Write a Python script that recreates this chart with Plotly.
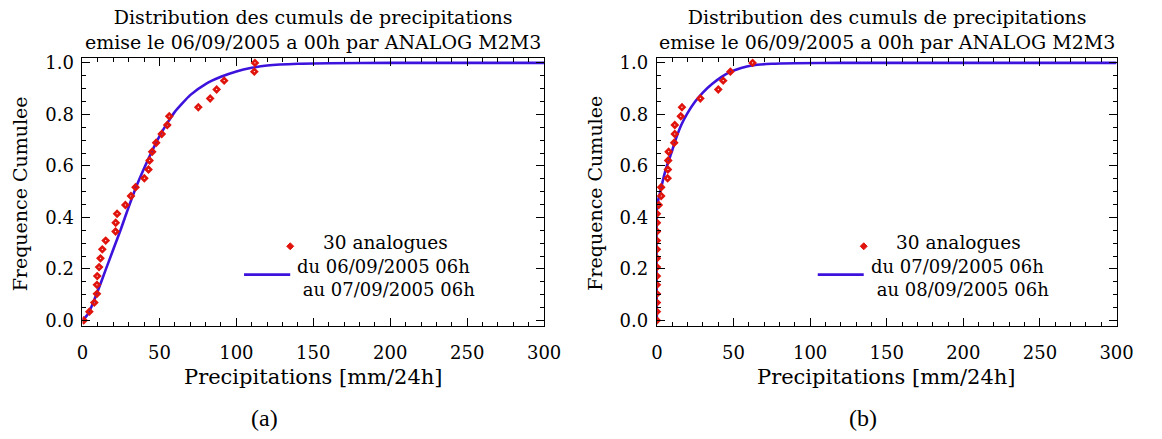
import plotly.graph_objects as go

# ---------------- data ----------------
cdf_levels = [0.0, 0.034, 0.069, 0.103, 0.138, 0.172, 0.207, 0.241, 0.276, 0.310,
              0.345, 0.379, 0.414, 0.448, 0.483, 0.517, 0.552, 0.586, 0.621, 0.655,
              0.690, 0.724, 0.759, 0.793, 0.828, 0.862, 0.897, 0.931, 0.966, 1.0]

analog_a = [0.8, 4.5, 7.7, 9.4, 9.4, 9.6, 10.8, 11.7, 12.9, 15.1,
            21.5, 21.6, 22.5, 27.9, 31.5, 34.5, 40.2, 42.9, 43.6, 45.3,
            47.9, 51.5, 55.1, 56.4, 75.3, 83.0, 87.2, 92.1, 111.7, 112.1]

analog_b = [0, 0, 0, 0, 0, 0, 0, 0, 0, 0,
            0, 0, 0, 1.2, 2.8, 2.8, 7.0, 7.2, 7.4, 7.7,
            11.3, 11.7, 11.7, 15.6, 16.4, 28.4, 40.1, 43.3, 48.0, 62.5]

fit_a_x = [0, 3, 6, 10, 15, 20, 25, 30, 35, 40, 45, 50, 55, 60, 70, 80, 90, 100,
           110, 120, 140, 160, 200, 300]
fit_a_y = [0, 0.02, 0.055, 0.115, 0.195, 0.275, 0.355, 0.44, 0.52, 0.59, 0.655,
           0.715, 0.765, 0.81, 0.875, 0.918, 0.946, 0.967, 0.981, 0.99, 0.997,
           0.999, 1.0, 1.0]

fit_b_x = [0, 0, 1, 2, 4, 6, 8, 10, 13, 16, 20, 25, 30, 36, 42, 48, 55, 62, 75,
           90, 120, 300]
fit_b_y = [0, 0.435, 0.47, 0.495, 0.545, 0.59, 0.625, 0.66, 0.715, 0.76, 0.805,
           0.85, 0.885, 0.918, 0.945, 0.965, 0.98, 0.99, 0.997, 0.999, 1.0, 1.0]

x_ticks = [0, 50, 100, 150, 200, 250, 300]
y_ticks = [0.0, 0.2, 0.4, 0.6, 0.8, 1.0]

title_lines = ["Distribution des cumuls de precipitations",
               "emise le 06/09/2005 a 00h par ANALOG M2M3"]
x_title = "Precipitations [mm/24h]"
y_title = "Frequence Cumulee"
legend_marker = "30 analogues"
legend_line_a = ["du 06/09/2005 06h", "au 07/09/2005 06h"]
legend_line_b = ["du 07/09/2005 06h", "au 08/09/2005 06h"]
captions = ["(a)", "(b)"]

# ---------------- style ----------------
W, H = 1162, 439
FONT = "DejaVu Serif"
RED = "#e0140c"
BLUE = "#3c12dc"

fig = go.Figure()

panels = [
    dict(xa="x", ya="y", dom=(78, 549), data=analog_a, fx=fit_a_x, fy=fit_a_y,
         leg=legend_line_a, cap=captions[0], capx=264),
    dict(xa="x2", ya="y2", dom=(664, 1133), data=analog_b, fx=fit_b_x, fy=fit_b_y,
         leg=legend_line_b, cap=captions[1], capx=874),
]

top_px, bot_px = 54, 328
ydom = [1 - bot_px / H, 1 - top_px / H]


def font(size):
    return dict(family=FONT, size=size, color="black")


annotations = []
shapes = []
for i, p in enumerate(panels):
    fig.add_trace(go.Scatter(
        x=p["fx"], y=p["fy"], mode="lines", xaxis=p["xa"], yaxis=p["ya"],
        line=dict(color=BLUE, width=2.6, shape="spline", smoothing=0.5),
        showlegend=False, hoverinfo="skip"))
    fig.add_trace(go.Scatter(
        x=p["data"], y=cdf_levels, mode="markers", xaxis=p["xa"], yaxis=p["ya"],
        marker=dict(symbol="diamond-open", size=4, color=RED,
                    line=dict(color=RED, width=2.6)),
        showlegend=False, hoverinfo="skip"))

    x0, x1 = p["dom"]
    sfx = "" if i == 0 else "2"
    axkw = dict(showline=True, linecolor="black", linewidth=1, mirror="ticks",
                ticks="inside", tickcolor="black", ticklen=8, tickwidth=1,
                showgrid=False, zeroline=False, tickfont=font(18))
    fig.layout["xaxis" + sfx] = dict(
        domain=[x0 / W, x1 / W], range=[0, 300], tickvals=x_ticks,
        anchor="y" + sfx, ticklabelstandoff=11,
        minor=dict(dtick=10, tick0=0, ticks="inside", ticklen=4, tickcolor="black"),
        **axkw)
    fig.layout["yaxis" + sfx] = dict(
        domain=ydom, range=[-0.02, 1.02], tickvals=y_ticks, tickformat=".1f",
        anchor="x" + sfx, ticklabelstandoff=4,
        minor=dict(dtick=0.05, tick0=0, ticks="inside", ticklen=4, tickcolor="black"),
        **axkw)

    xd = "x" + sfx + " domain"
    yd = "y" + sfx + " domain"
    cx = (x0 + x1) / 2
    # title (two lines)
    annotations.append(dict(text=title_lines[0] + "<br>" + title_lines[1],
                            x=cx / W, y=1 - 25 / H, xref="paper",
                            yref="paper", showarrow=False, xanchor="center",
                            yanchor="middle", align="center", font=font(19)))
    # axis titles
    annotations.append(dict(text=x_title, x=cx / W, y=1 - 381 / H,
                            xref="paper", yref="paper", showarrow=False,
                            xanchor="center", yanchor="middle", font=font(21)))
    annotations.append(dict(text=y_title, x=(x0 - 64) / W,
                            y=1 - 193 / H, xref="paper", yref="paper",
                            showarrow=False, textangle=-90, xanchor="center",
                            yanchor="middle", font=font(19)))
    # caption
    annotations.append(dict(text=p["cap"], x=p["capx"] / W, y=1 - 423 / H,
                            xref="paper", yref="paper", showarrow=False,
                            xanchor="center", yanchor="middle",
                            font=dict(family="Liberation Serif", size=24, color="black")))
    # legend
    annotations.append(dict(text=legend_marker, x=0.516, y=0.31, xref=xd, yref=yd,
                            showarrow=False, xanchor="left", yanchor="middle",
                            font=font(18.5)))
    annotations.append(dict(text=p["leg"][0] + "<br>\u00a0" + p["leg"][1],
                            x=0.461, y=0.176, xref=xd, yref=yd,
                            showarrow=False, xanchor="left", yanchor="middle",
                            align="left", font=font(18)))
    shapes.append(dict(type="line", xref=xd, yref=yd, x0=0.350, x1=0.450,
                       y0=0.19, y1=0.19, line=dict(color=BLUE, width=2.6)))
    shapes.append(dict(type="path", xref=xd, yref=yd, xsizemode="pixel",
                       ysizemode="pixel", xanchor=0.450, yanchor=0.296,
                       path="M -3.5 0 L 0 3.5 L 3.5 0 L 0 -3.5 Z",
                       fillcolor=RED, line=dict(color=RED, width=1)))

fig.update_layout(width=W, height=H, margin=dict(l=0, r=0, t=0, b=0),
                  paper_bgcolor="white", plot_bgcolor="white",
                  annotations=annotations, shapes=shapes, showlegend=False)

fig.write_html("out.html")
